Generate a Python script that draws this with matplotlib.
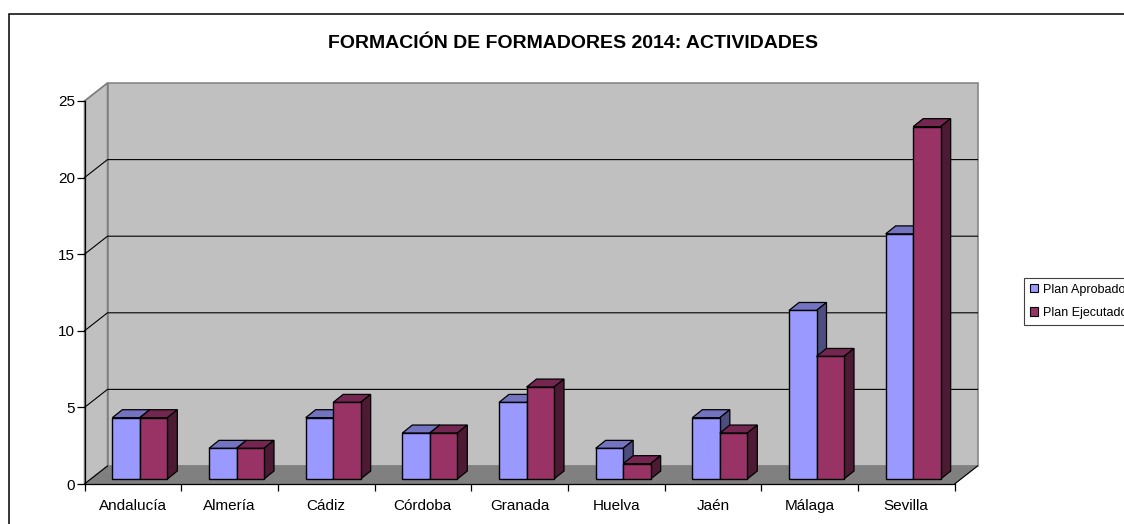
import matplotlib
matplotlib.use("Agg")
import matplotlib.pyplot as plt
from matplotlib.patches import Polygon, Rectangle, Patch

plt.rcParams['font.family'] = ['Liberation Sans', 'DejaVu Sans']

categories = ["Andalucía", "Almería", "Cádiz", "Córdoba", "Granada", "Huelva", "Jaén", "Málaga", "Sevilla"]
plan_aprobado = [4, 2, 4, 3, 5, 2, 4, 11, 16]
plan_ejecutado = [4, 2, 5, 3, 6, 1, 3, 8, 23]
y_ticks = [0, 5, 10, 15, 20, 25]
title = "FORMACIÓN DE FORMADORES 2014: ACTIVIDADES"
series_names = ["Plan Aprobado", "Plan Ejecutado"]

W, H = 1124, 524
fig = plt.figure(figsize=(W / 100, H / 100), dpi=100, facecolor="white")

# chart frame runs off the right and bottom of the picture
fig.add_artist(Rectangle((9 / W, -0.05), 1.2, (H - 14) / H + 0.05, transform=fig.transFigure,
                         fill=False, ec="black", lw=1.1))

# front plane of the 3-D box in pixels
L, R, T, B = 84.5, 954.5, 101, 484
ax = fig.add_axes([L / W, 1 - B / H, (R - L) / W, (B - T) / H])
n = len(categories)
ax.set_xlim(0, n)
ax.set_ylim(0, y_ticks[-1])
ax.patch.set_visible(False)
for s in ("top", "right"):
    ax.spines[s].set_visible(False)
for s in ("left", "bottom"):
    ax.spines[s].set_linewidth(0.9)

dx = 23 / ((R - L) / n)        # box depth in data units
dy = 18 / ((B - T) / y_ticks[-1])
ymax = y_ticks[-1]
GREY = "#808080"


def poly(pts, fc, ec, lw=0.8, z=1):
    ax.add_patch(Polygon(pts, closed=True, fc=fc, ec=ec, lw=lw, zorder=z, clip_on=False))


poly([(dx, dy), (n + dx, dy), (n + dx, ymax + dy), (dx, ymax + dy)], "#C0C0C0", GREY, 1.1)
poly([(0, 0), (dx, dy), (dx, ymax + dy), (0, ymax)], "#C0C0C0", GREY, 1.1)
poly([(0, 0), (n, 0), (n + dx, dy), (dx, dy)], GREY, GREY, 0.8)
ax.plot([n, n + dx], [0, dy], color="black", lw=0.8, clip_on=False, zorder=1.2)
ax.plot([0, dx], [0, dy], color="black", lw=0.8, clip_on=False, zorder=1.2)

for v in y_ticks[1:-1]:
    ax.plot([0, dx, n + dx], [v, v + dy, v + dy], color="black", lw=0.8, clip_on=False, zorder=1.5)
ax.plot([0, dx], [ymax, ymax + dy], color=GREY, lw=1.0, clip_on=False, zorder=1.5)

# bars
bw = 27.5 / ((R - L) / n)
shift = 7 / ((R - L) / n)
base = 5 / ((B - T) / ymax)
bdx = 10 / ((R - L) / n)
bdy = 8 / ((B - T) / ymax)
styles = [("#9999FF", "#7373BF", "#4D4D80"), ("#993366", "#732650", "#4D1A33")]
z = 2
for i in range(n):
    for j, vals in enumerate((plan_aprobado, plan_ejecutado)):
        front, top, side = styles[j]
        x0 = i + 0.5 + shift + (j - 1) * bw
        x1 = x0 + bw
        yt = base + vals[i]
        poly([(x0, yt), (x1, yt), (x1 + bdx, yt + bdy), (x0 + bdx, yt + bdy)], top, "black", 0.9, z)
        poly([(x1, base), (x1 + bdx, base + bdy), (x1 + bdx, yt + bdy), (x1, yt)], side, "black", 0.9, z)
        ax.bar(x0, vals[i], width=bw, bottom=base, align="edge", color=front, edgecolor="black",
               linewidth=1.0, zorder=z + 0.1, clip_on=False)
        z += 0.2

# axes
ax.set_yticks(y_ticks)
ax.set_xticks(range(n + 1))
ax.set_xticklabels([])
ax.set_xticks([i + 0.5 for i in range(n)], minor=True)
ax.set_xticklabels(categories, minor=True)
ax.tick_params(axis="x", which="major", length=5, width=0.9)
ax.tick_params(axis="x", which="minor", length=0, labelsize=11, pad=11)
ax.tick_params(axis="y", length=6, width=0.9, labelsize=11, pad=1)

fig.text(573.5 / W, 1 - 44 / H, title, ha="center", va="center", fontsize=14, fontweight="bold")

handles = [Patch(fc=styles[0][0], ec="black", lw=0.8), Patch(fc=styles[1][0], ec="black", lw=0.8)]
leg = fig.legend(handles, series_names, loc="upper left", bbox_to_anchor=(1024 / W, 1 - 278 / H),
                 borderaxespad=0, fontsize=9, frameon=True, fancybox=False, edgecolor="#404040",
                 handlelength=0.65, handleheight=0.65, handletextpad=0.4, labelspacing=0.9,
                 borderpad=0.45, framealpha=1)
leg.get_frame().set_linewidth(0.8)

fig.savefig("out.png", dpi=100)
